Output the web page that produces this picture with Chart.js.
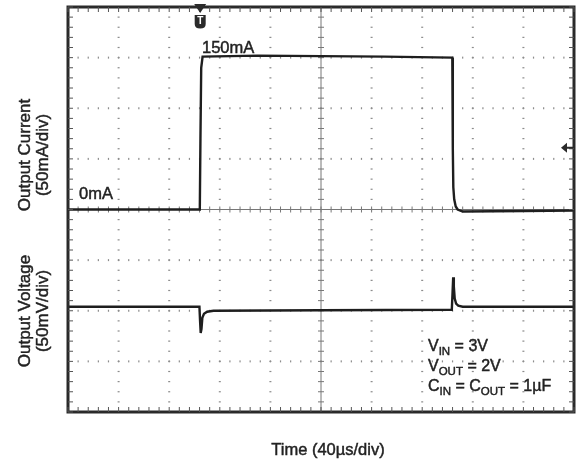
<!DOCTYPE html>
<html>
<head>
<meta charset="utf-8">
<title>Load transient response</title>
<script src="https://cdn.jsdelivr.net/npm/chart.js@4.4.1/dist/chart.umd.min.js"></script>
<style>
  html, body { margin: 0; padding: 0; background: #fff; }
  #wrap { width: 577px; height: 464px; }
</style>
</head>
<body>
<div id="wrap"><canvas id="scope" width="577" height="464"></canvas></div>
<script>
// --- DATA (read off the scope shot) ---
// time axis: 10 div x 40us
const timeRangeUs = [0, 400];
const timeDivUs = 40;

// channel 1: output current, 50mA/div, 0mA on the centre line
const currentRangeMa = [-200, 200];
const currentTimeUs = [0, 104.2, 104.7, 105.3, 106.4, 150, 250, 303.8, 304.2, 304.6, 305.3, 306.5, 308, 312, 360, 400];
const currentMa     = [0, 0, 70, 140, 151, 152, 151, 150, 60, 22, 10, 3, 0, -2, -1.5, -1];

// channel 2: output voltage deviation, 50mV/div
const voltageRangeMv = [-100, 300];
const voltageTimeUs = [0, 103.9, 104.4, 104.9, 105.5, 106.2, 107.5, 110, 115, 200, 303.4, 304.0, 304.5, 305.0, 305.7, 306.8, 308.5, 312, 400];
const voltageMv     = [4, 4, -10, -22, -18, -7, -3, -1, 0, 0.5, 1, 18, 33, 24, 12, 7, 5, 4, 4];

const toPoints = (xs, ys) => xs.map((t, i) => ({ x: t, y: ys[i] }));
const FONT = '"Liberation Sans", Arial, sans-serif';

// --- oscilloscope graticule, drawn from the chart scales ---
const graticule = {
    id: 'graticule',
    beforeDatasetsDraw(chart) {
        const { ctx, chartArea: a, scales } = chart;
        const sx = scales.x, sy = scales.yI;
        const minorX = timeDivUs / 5, minorY = 10;
        ctx.save();

        // dotted division lines
        ctx.fillStyle = '#8c8c8c';
        for (let t = timeRangeUs[0] + timeDivUs; t < timeRangeUs[1]; t += timeDivUs) {
            if (t === 200) continue;
            const px = sx.getPixelForValue(t);
            for (let v = currentRangeMa[0]; v <= currentRangeMa[1]; v += minorY) {
                const py = sy.getPixelForValue(v);
                ctx.fillRect(px - 1, py - 0.6, 2, 1.2);
            }
        }
        for (let v = currentRangeMa[0] + 50; v < currentRangeMa[1]; v += 50) {
            if (v === 0) continue;
            const py = sy.getPixelForValue(v);
            for (let t = timeRangeUs[0]; t <= timeRangeUs[1]; t += minorX) {
                const px = sx.getPixelForValue(t);
                ctx.fillRect(px - 0.6, py - 1, 1.2, 2);
            }
        }

        // centre cross with minor ticks
        const cx = sx.getPixelForValue(200), cy = sy.getPixelForValue(0);
        ctx.strokeStyle = '#777';
        ctx.lineWidth = 1;
        ctx.beginPath();
        ctx.moveTo(a.left, cy); ctx.lineTo(a.right, cy);
        ctx.moveTo(cx, a.top); ctx.lineTo(cx, a.bottom);
        for (let t = timeRangeUs[0]; t <= timeRangeUs[1]; t += minorX) {
            const px = sx.getPixelForValue(t);
            ctx.moveTo(px, cy - 3); ctx.lineTo(px, cy + 3);
        }
        for (let v = currentRangeMa[0]; v <= currentRangeMa[1]; v += minorY) {
            const py = sy.getPixelForValue(v);
            ctx.moveTo(cx - 3, py); ctx.lineTo(cx + 3, py);
        }
        ctx.stroke();
        ctx.restore();
    },
    afterDraw(chart) {
        const { ctx, chartArea: a, scales } = chart;
        const sx = scales.x, sy = scales.yI;
        ctx.save();

        // frame + inward ticks
        ctx.strokeStyle = '#2a2a2a';
        ctx.lineWidth = 3;
        ctx.strokeRect(a.left, a.top, a.right - a.left, a.bottom - a.top);
        ctx.lineWidth = 1;
        ctx.strokeStyle = '#555';
        ctx.beginPath();
        for (let t = timeRangeUs[0]; t <= timeRangeUs[1]; t += timeDivUs / 5) {
            const px = sx.getPixelForValue(t);
            ctx.moveTo(px, a.top); ctx.lineTo(px, a.top + 5);
            ctx.moveTo(px, a.bottom); ctx.lineTo(px, a.bottom - 5);
        }
        for (let v = currentRangeMa[0]; v <= currentRangeMa[1]; v += 10) {
            const py = sy.getPixelForValue(v);
            ctx.moveTo(a.left, py); ctx.lineTo(a.left + 5, py);
            ctx.moveTo(a.right, py); ctx.lineTo(a.right - 5, py);
        }
        ctx.stroke();

        // trigger marker
        const tx = sx.getPixelForValue(104.5);
        ctx.fillStyle = '#2a2a2a';
        ctx.beginPath();
        ctx.moveTo(tx - 6, a.top - 3); ctx.lineTo(tx + 6, a.top - 3); ctx.lineTo(tx, a.top + 6);
        ctx.closePath(); ctx.fill();
        ctx.beginPath();
        ctx.moveTo(tx - 5.5, a.top + 8);
        ctx.lineTo(tx + 5.5, a.top + 8);
        ctx.lineTo(tx + 5.5, a.top + 17);
        ctx.quadraticCurveTo(tx + 5.5, a.top + 21.5, tx, a.top + 21.5);
        ctx.quadraticCurveTo(tx - 5.5, a.top + 21.5, tx - 5.5, a.top + 17);
        ctx.closePath(); ctx.fill();
        ctx.fillStyle = '#fff';
        ctx.font = 'bold 10px ' + FONT;
        ctx.textAlign = 'center';
        ctx.textBaseline = 'middle';
        ctx.fillText('T', tx, a.top + 14);

        // channel offset marker on the right
        const ay = sy.getPixelForValue(61);
        ctx.fillStyle = '#2a2a2a';
        ctx.beginPath();
        ctx.moveTo(a.right - 13, ay); ctx.lineTo(a.right - 7, ay - 5); ctx.lineTo(a.right - 7, ay + 5);
        ctx.closePath(); ctx.fill();
        ctx.fillRect(a.right - 8, ay - 1, 7, 2);

        // text helper: fill plus a hairline stroke to match the heavy print
        ctx.fillStyle = '#222';
        ctx.strokeStyle = '#222';
        ctx.lineWidth = 0.45;
        const txt = (s, x, y) => { ctx.fillText(s, x, y); ctx.strokeText(s, x, y); };

        // trace labels
        ctx.textAlign = 'left';
        ctx.textBaseline = 'alphabetic';
        ctx.font = '16.5px ' + FONT;
        txt('150mA', 202, 53);
        txt('0mA', 79, 199);

        // conditions block
        const line = (x, y, parts) => {
            let cx = x;
            parts.forEach(p => {
                ctx.font = (p.sub ? '11.5px ' : '16px ') + FONT;
                txt(p.t, cx, y + (p.sub ? 4 : 0));
                cx += ctx.measureText(p.t).width;
            });
        };
        line(428, 351, [{ t: 'V' }, { t: 'IN', sub: true }, { t: ' = 3V' }]);
        line(428, 371, [{ t: 'V' }, { t: 'OUT', sub: true }, { t: ' = 2V' }]);
        line(428, 391, [{ t: 'C' }, { t: 'IN', sub: true }, { t: ' = C' }, { t: 'OUT', sub: true }, { t: ' = 1\u00b5F' }]);

        // axis titles
        ctx.textAlign = 'center';
        ctx.font = '16.5px ' + FONT;
        txt('Time (40\u00b5s/div)', 328, 455);

        ctx.font = '17px ' + FONT;
        ctx.textBaseline = 'middle';
        const rotated = (x, y, text) => {
            ctx.save();
            ctx.translate(x, y);
            ctx.rotate(-Math.PI / 2);
            txt(text, 0, 0);
            ctx.restore();
        };
        rotated(25, 155, 'Output Current');
        rotated(43, 155, '(50mA/div)');
        rotated(25, 311, 'Output Voltage');
        rotated(43, 311, '(50mV/div)');
        ctx.restore();
    }
};

new Chart(document.getElementById('scope').getContext('2d'), {
    type: 'line',
    data: {
        datasets: [
            {
                label: 'Output Current',
                data: toPoints(currentTimeUs, currentMa),
                yAxisID: 'yI',
                borderColor: '#1e1e1e',
                borderWidth: 2.4,
                pointRadius: 0,
                tension: 0
            },
            {
                label: 'Output Voltage',
                data: toPoints(voltageTimeUs, voltageMv),
                yAxisID: 'yV',
                borderColor: '#1e1e1e',
                borderWidth: 2.4,
                pointRadius: 0,
                tension: 0
            }
        ]
    },
    options: {
        responsive: false,
        animation: false,
        layout: { padding: { left: 68, top: 7, right: 3, bottom: 52 } },
        plugins: { legend: { display: false }, tooltip: { enabled: false } },
        scales: {
            x: { type: 'linear', min: timeRangeUs[0], max: timeRangeUs[1], display: false },
            yI: { min: currentRangeMa[0], max: currentRangeMa[1], display: false },
            yV: { min: voltageRangeMv[0], max: voltageRangeMv[1], display: false }
        }
    },
    plugins: [graticule]
});
</script>
</body>
</html>
